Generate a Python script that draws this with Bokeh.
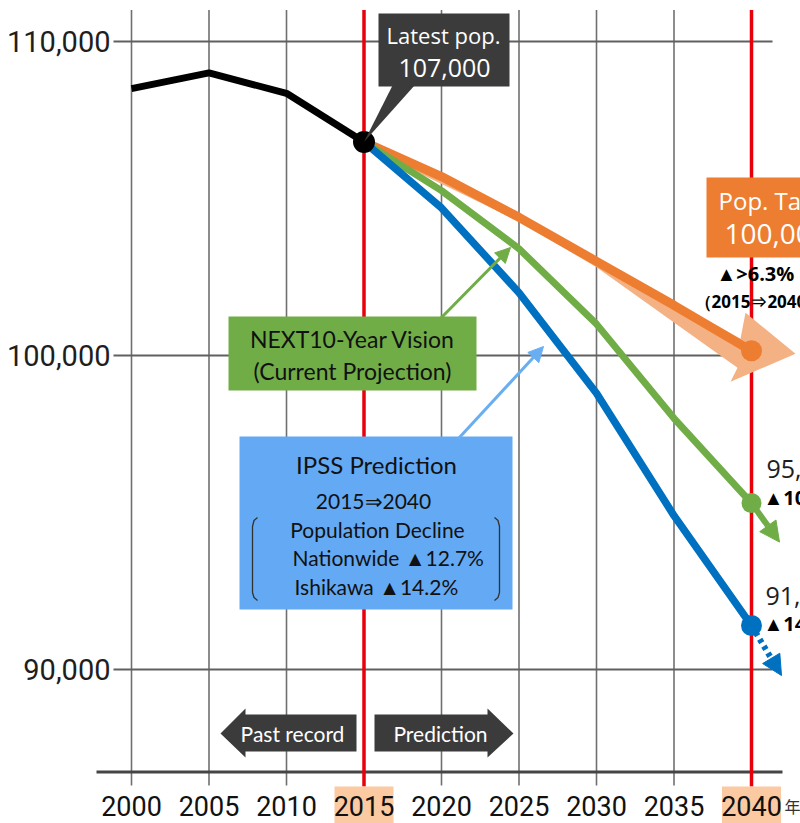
from bokeh.plotting import figure
from bokeh.models import Range1d, Arrow, NormalHead
from bokeh.core.properties import value
from bokeh.embed import file_html
from bokeh.resources import INLINE

# ---------------- data ----------------
years_past = [2000, 2005, 2010, 2015]
pop_past = [108500, 109000, 108350, 106800]

years_proj = [2015, 2020, 2025, 2030, 2035, 2040]
pop_target = [106800, 105700, 104400, 103000, 101600, 100150]   # Pop. Target
pop_vision = [106800, 105250, 103400, 101000, 98000, 95300]     # NEXT10-Year Vision
pop_ipss = [106800, 104700, 102000, 98800, 94900, 91400]        # IPSS

x_ticks = [2000, 2005, 2010, 2015, 2020, 2025, 2030, 2035, 2040]
x_tick_labels = ["2000", "2005", "2010", "2015", "2020", "2025", "2030", "2035", "2040"]
highlight_years = [2015, 2040]
y_ticks = [90000, 100000, 110000]
y_tick_labels = ["90,000", "100,000", "110,000"]

latest_label = ["Latest pop.", "107,000"]
target_label = ["Pop. Target", "100,000"]
target_change = ["▲>6.3%", "（2015⇒2040）"]
vision_end = ["95,300", "▲10.8%"]
ipss_end = ["91,500", "▲14.2%"]
vision_box = ["NEXT10-Year Vision", "(Current Projection)"]
ipss_box = ["IPSS Prediction", "2015⇒2040", "Population Decline",
            "Nationwide ▲12.7%", "Ishikawa ▲14.2%"]

# ---------------- page-pixel helpers (for annotations only) ----------------
def X(px):
    return 2000 + (px - 131) / 15.5

def Y(py):
    return 110000 - (py - 41) * (1000 / 31.4)

def dx(px):
    return px / 15.5

def dy(py):
    return py * 1000 / 31.4

W, H = 800, 823
p = figure(width=W, height=H, output_backend="svg", toolbar_location=None,
           x_range=Range1d(X(0), X(W)), y_range=Range1d(Y(H), Y(0)),
           x_axis_location=None, y_axis_location=None, min_border=0,
           outline_line_color=None, background_fill_color="white",
           border_fill_color="white")
p.grid.visible = False

def txt(px, py, s, size, color="#000000", font="Lato", align="center", style="normal"):
    p.text(x=[X(px)], y=[Y(py)], text=[s], text_font=value(font),
           text_font_size=f"{size}px", text_color=color, text_align=align,
           text_baseline="middle", text_font_style=style)

ORANGE = "#ed7d31"
LORANGE = "#f4b183"
GREEN = "#70ad47"
BLUE = "#0070c0"
LBLUE = "#64a9f3"
DARK = "#3b3b3b"
RED = "#e8000b"
PEACH = "#fbcaa2"

# ---------------- grid / axes ----------------
grid_years = [yv for yv in x_ticks if yv not in highlight_years]
p.segment(x0=grid_years, y0=[Y(9.5)] * len(grid_years), x1=grid_years,
          y1=[Y(785)] * len(grid_years), line_color="#707070", line_width=1.6)
p.segment(x0=[X(113)] * len(y_ticks), y0=y_ticks, x1=[X(772)] * len(y_ticks),
          y1=y_ticks, line_color="#606060", line_width=2)
p.segment(x0=[X(96)], y0=[Y(771.5)], x1=[X(782)], y1=[Y(771.5)],
          line_color="#454545", line_width=3)
p.segment(x0=highlight_years, y0=[Y(9.5)] * 2, x1=highlight_years,
          y1=[Y(786)] * 2, line_color=RED, line_width=3.5)

# tick labels
p.quad(left=[yv - dx(29.5) for yv in highlight_years],
       right=[yv + dx(29.5) for yv in highlight_years],
       top=[Y(786)] * 2, bottom=[Y(830)] * 2, fill_color=PEACH, line_color=None)
p.text(x=x_ticks, y=[Y(805)] * len(x_ticks), text=x_tick_labels,
       text_font=value("Roboto"),
       text_font_size="27px", text_color="#111111", text_align="center",
       text_baseline="middle")
p.text(x=[X(110)] * len(y_ticks), y=y_ticks, text=y_tick_labels,
       text_font=value("Roboto"), text_font_size="29px", text_color="#1e1e1e",
       text_align="right", text_baseline="middle")
txt(784, 805, "年", 16, color="#333333", font="Noto Sans CJK JP", align="left")

# ---------------- target wide arrow ----------------
t0x, t0y = years_proj[0], pop_target[0]
t1x, t1y = years_proj[-1], pop_target[-1]
arrow_x = [t0x + dx(2), years_proj[3], t1x - dx(11), t1x - dx(6), t1x + dx(44),
           t1x - dx(21), t1x - dx(14), years_proj[3], years_proj[2], t0x - dx(1)]
arrow_y = [t0y, pop_target[3] + dy(3), t1y + dy(12), t1y + dy(38), t1y - dy(3),
           t1y - dy(31), t1y - dy(17), pop_target[3] - dy(6), pop_target[2] - dy(4), t0y - dy(4)]
p.patch(x=arrow_x, y=arrow_y, fill_color=LORANGE, line_color=None)

# ---------------- series ----------------
p.line(years_proj, pop_target, line_color=ORANGE, line_width=9)
p.line(years_proj, pop_vision, line_color=GREEN, line_width=7)
p.line(years_proj, pop_ipss, line_color=BLUE, line_width=7.5)
p.line(years_past, pop_past, line_color="#000000", line_width=7, line_join="round")

# extension arrows at 2040
p.add_layout(Arrow(end=NormalHead(size=20, fill_color=GREEN, line_color=GREEN),
                   x_start=years_proj[-1], y_start=pop_vision[-1],
                   x_end=years_proj[-1] + dx(28), y_end=pop_vision[-1] - dy(39),
                   line_color=GREEN, line_width=6))
p.add_layout(Arrow(end=NormalHead(size=20, fill_color=BLUE, line_color=BLUE),
                   x_start=years_proj[-1], y_start=pop_ipss[-1],
                   x_end=years_proj[-1] + dx(30), y_end=pop_ipss[-1] - dy(50),
                   line_color=BLUE, line_width=6, line_dash="4 4"))

p.scatter([years_proj[-1]], [pop_target[-1]], size=21, fill_color=ORANGE, line_color=None)
p.scatter([years_proj[-1]], [pop_vision[-1]], size=20, fill_color=GREEN, line_color=None)
p.scatter([years_proj[-1]], [pop_ipss[-1]], size=21, fill_color=BLUE, line_color=None)
p.scatter([years_past[-1]], [pop_past[-1]], size=22, fill_color="#000000", line_color=None)

# ---------------- Latest pop callout ----------------
p.patch(x=[X(392), X(414), years_past[-1]], y=[Y(85), Y(85), pop_past[-1]],
        fill_color=DARK, line_color=None)
p.quad(left=[X(378)], right=[X(509)], top=[Y(13)], bottom=[Y(86)],
       fill_color=DARK, line_color=None)
txt(443, 34, latest_label[0], 22, color="white", font="Open Sans")
txt(444, 67, latest_label[1], 25, color="white", font="Open Sans")

# ---------------- Pop. Target box ----------------
p.quad(left=[X(706)], right=[X(860)], top=[Y(177)], bottom=[Y(257)],
       fill_color=ORANGE, line_color=None)
txt(718, 200, target_label[0], 24, color="white", font="Open Sans", align="left")
txt(724, 233, target_label[1], 28, color="white", font="Open Sans", align="left")
txt(716, 273, target_change[0], 20, font="Open Sans", align="left", style="bold")
txt(694, 301, target_change[1], 17, font="Open Sans", align="left", style="bold")

# end labels
txt(766, 468, vision_end[0], 25, color="#1e1e1e", font="Open Sans", align="left")
txt(763, 497, vision_end[1], 20, font="Open Sans", align="left", style="bold")
txt(765, 595, ipss_end[0], 25, color="#1e1e1e", font="Open Sans", align="left")
txt(763, 623, ipss_end[1], 20, font="Open Sans", align="left", style="bold")

# ---------------- NEXT10 box ----------------
p.add_layout(Arrow(end=NormalHead(size=15, fill_color=GREEN, line_color=GREEN),
                   x_start=X(440), y_start=Y(318), x_end=X(510), y_end=Y(247),
                   line_color=GREEN, line_width=3))
p.quad(left=[X(228)], right=[X(476)], top=[Y(316)], bottom=[Y(390)],
       fill_color=GREEN, line_color=None)
txt(352, 338, vision_box[0], 23, color="#111111")
txt(352, 370, vision_box[1], 23, color="#111111")

# ---------------- IPSS box ----------------
p.add_layout(Arrow(end=NormalHead(size=15, fill_color="#6aaef2", line_color="#6aaef2"),
                   x_start=X(458), y_start=Y(438), x_end=X(543), y_end=Y(346),
                   line_color="#6aaef2", line_width=3))
p.quad(left=[X(239)], right=[X(512)], top=[Y(436)], bottom=[Y(609)],
       fill_color=LBLUE, line_color=None)
txt(376, 464, ipss_box[0], 24, color="#111111")
txt(373, 500, ipss_box[1], 21, color="#111111")
txt(377, 529, ipss_box[2], 21, color="#111111")
txt(292, 557, ipss_box[3], 21, color="#111111", align="left")
txt(294, 586, ipss_box[4], 21, color="#111111", align="left")
p.line(x=[X(257), X(253.5), X(252), X(252), X(253.5), X(257)],
       y=[Y(517), Y(520), Y(526), Y(592), Y(597), Y(600)], line_color="#333333", line_width=1.3)
p.line(x=[X(494), X(497.5), X(499), X(499), X(497.5), X(494)],
       y=[Y(517), Y(520), Y(526), Y(592), Y(597), Y(600)], line_color="#333333", line_width=1.3)

# ---------------- Past record / Prediction arrows ----------------
p.patch(x=[X(220), X(245), X(245), X(356), X(356), X(245), X(245)],
        y=[Y(733), Y(708), Y(714), Y(714), Y(751), Y(751), Y(757)],
        fill_color=DARK, line_color=None)
p.patch(x=[X(374), X(487), X(487), X(513), X(487), X(487), X(374)],
        y=[Y(714), Y(714), Y(708), Y(733), Y(757), Y(751), Y(751)],
        fill_color=DARK, line_color=None)
txt(292, 733, "Past record", 21, color="white")
txt(440, 733, "Prediction", 21, color="white")

open("out.html", "w").write(file_html(p, INLINE))
